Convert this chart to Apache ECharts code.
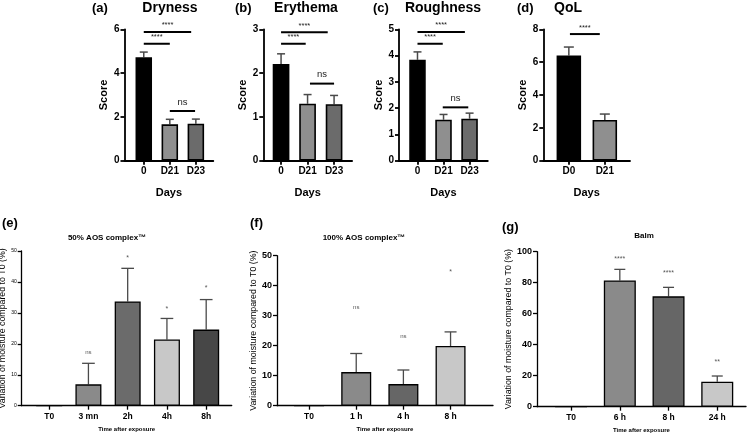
<!DOCTYPE html>
<html>
<head>
<meta charset="utf-8">
<script src="https://cdn.jsdelivr.net/npm/echarts@6/dist/echarts.min.js"></script>
<style>
  html, body { margin: 0; padding: 0; background: #fff; }
  #main { width: 751px; height: 434px; }
</style>
</head>
<body>
<div id="main"></div>
<script>
// clinical scores (top row)
const dayCats = ['0', 'D21', 'D23'];
const qolCats = ['D0', 'D21'];
const dryness = [4.72, 1.66, 1.69];
const drynessErr = [0.24, 0.23, 0.21];
const erythema = [2.21, 1.30, 1.29];
const erythemaErr = [0.23, 0.21, 0.20];
const roughness = [3.84, 1.56, 1.60];
const roughnessErr = [0.30, 0.20, 0.21];
const qol = [6.41, 2.48];
const qolErr = [0.51, 0.36];
// significance brackets: [from, to, level] + label
const drynessSig = [[0, 1.82, 5.88], [0, 1.0, 5.34], [1, 1.97, 2.27]];
const erythemaSig = [[0, 1.76, 2.93], [0, 0.93, 2.67], [1.09, 2.0, 1.76]];
const roughnessSig = [[0, 1.82, 4.90], [0, 0.97, 4.45], [0.97, 1.95, 2.03]];
const qolSig = [[0.03, 0.86, 7.71]];
const bracketLabels = ['****', '****', 'ns'];

// moisture (bottom row)
const aos50Cats = ['T0', '3 mn', '2h', '4h', '8h'];
const aos50 = [0, 6.9, 33.7, 21.4, 24.6];
const aos50Err = [0, 6.8, 10.7, 6.8, 9.7];
const aos50Sig = ['', 'ns', '*', '*', '*'];
const aos50SigAt = [null, 17.1, 47.8, 31.2, 38.1];

const aos100Cats = ['T0', '1 h', '4 h', '8 h'];
const aos100 = [0, 11.2, 7.2, 19.9];
const aos100Err = [0, 6.2, 4.7, 4.7];
const aos100Sig = ['', 'ns', 'ns', '*'];
const aos100SigAt = [null, 32.8, 23.2, 44.7];

const balmCats = ['T0', '6 h', '8 h', '24 h'];
const balm = [0, 81.5, 71.2, 16.1];
const balmErr = [0, 7.1, 5.8, 3.7];
const balmSig = ['', '****', '****', '**'];
const balmSigAt = [null, 95.3, 86.5, 29.0];

const FONT = 'Liberation Sans, Arial, sans-serif';
const topGrey = ['#000000', '#8f8f8f', '#6b6b6b'];
const moistName = 'Variation of moisture compared to T0 (%)';

const panels = [
  { cats: dayCats, vals: dryness, err: drynessErr, sig: drynessSig, colors: topGrey,
    left: 124.5, top: 29.3, width: 88.8, height: 131.4, xmin: -0.74, xmax: 2.67, ymax: 6, step: 2,
    barW: 16.5, cap: 8, top_: true },
  { cats: dayCats, vals: erythema, err: erythemaErr, sig: erythemaSig, colors: topGrey,
    left: 263.3, top: 29.3, width: 88.8, height: 131.4, xmin: -0.67, xmax: 2.68, ymax: 3, step: 1,
    barW: 16.7, cap: 8, top_: true },
  { cats: dayCats, vals: roughness, err: roughnessErr, sig: roughnessSig, colors: topGrey,
    left: 399, top: 29.3, width: 88.8, height: 131.4, xmin: -0.71, xmax: 2.70, ymax: 5, step: 1,
    barW: 16.5, cap: 8, top_: true },
  { cats: qolCats, vals: qol, err: qolErr, sig: qolSig, colors: topGrey,
    left: 543.3, top: 29.3, width: 86.7, height: 131.4, xmin: -0.71, xmax: 1.70, ymax: 8, step: 2,
    barW: 24.5, cap: 10, top_: true },
  { cats: aos50Cats, vals: aos50, err: aos50Err, marks: aos50Sig, marksAt: aos50SigAt,
    colors: ['#8a8a8a', '#8a8a8a', '#6b6b6b', '#c8c8c8', '#474747'],
    left: 21.7, top: 251, width: 210, height: 154.7, xmin: -0.70, xmax: 4.65, ymax: 50, step: 10,
    barW: 26, cap: 12.7, nameGap: 9, tickFont: 5, tickBold: 'normal' },
  { cats: aos100Cats, vals: aos100, err: aos100Err, marks: aos100Sig, marksAt: aos100SigAt,
    colors: ['#8a8a8a', '#8a8a8a', '#666666', '#c8c8c8'],
    left: 277, top: 255.7, width: 216, height: 150, xmin: -0.68, xmax: 3.90, ymax: 50, step: 10,
    barW: 30, cap: 12, nameGap: 14, tickFont: 9, tickBold: 'bold' },
  { cats: balmCats, vals: balm, err: balmErr, marks: balmSig, marksAt: balmSigAt,
    colors: ['#8a8a8a', '#8a8a8a', '#666666', '#c8c8c8'],
    left: 537, top: 251.7, width: 209, height: 155, xmin: -0.70, xmax: 3.59, ymax: 100, step: 20,
    barW: 32, cap: 11, nameGap: 23, tickFont: 9, tickBold: 'bold' }
];

const grid = [], xAxis = [], yAxis = [], series = [];

panels.forEach((p, k) => {
  const idx = p.cats.map((c, i) => i);
  const lw = p.top_ ? 1.8 : 1.3;
  grid.push({ left: p.left, top: p.top, width: p.width, height: p.height,
    containLabel: false, outerBoundsMode: 'none' });
  xAxis.push({
    type: 'value', gridIndex: k, min: p.xmin, max: p.xmax,
    splitLine: { show: false },
    axisLine: { show: true, onZero: false, lineStyle: { color: '#000', width: lw } },
    axisTick: { show: true, customValues: idx, length: 4, lineStyle: { color: '#000', width: lw } },
    axisLabel: {
      customValues: idx, formatter: v => p.cats[Math.round(v)],
      color: '#000', fontFamily: FONT, fontWeight: 'bold',
      fontSize: p.top_ ? 10 : 8.5, margin: p.top_ ? 6 : 6
    },
    name: p.top_ ? 'Days' : 'Time after exposure',
    nameLocation: 'middle', nameGap: p.top_ ? 27 : 21,
    nameTextStyle: { color: '#000', fontFamily: FONT, fontWeight: 'bold', fontSize: p.top_ ? 11 : 6 }
  });
  yAxis.push({
    type: 'value', gridIndex: k, min: 0, max: p.ymax, interval: p.step,
    splitLine: { show: false },
    axisLine: { show: true, onZero: false, lineStyle: { color: '#000', width: lw } },
    axisTick: { show: true, length: 4, lineStyle: { color: '#000', width: lw } },
    axisLabel: {
      color: '#000', fontFamily: FONT, margin: 5,
      fontWeight: p.top_ ? 'bold' : p.tickBold, fontSize: p.top_ ? 10 : p.tickFont
    },
    name: p.top_ ? 'Score' : moistName,
    nameLocation: 'middle', nameRotate: 90, nameGap: p.top_ ? 15 : p.nameGap,
    nameTextStyle: { color: '#000', fontFamily: FONT,
      fontWeight: p.top_ ? 'bold' : 'normal', fontSize: p.top_ ? 11 : 8.8 }
  });

  series.push({
    type: 'bar', xAxisIndex: k, yAxisIndex: k, barWidth: p.barW,
    data: p.vals.map((v, i) => ({ value: [i, v],
      itemStyle: { color: p.colors[i], borderColor: '#000', borderWidth: p.top_ ? 1.6 : 1.3 } }))
  });

  series.push({
    type: 'custom', xAxisIndex: k, yAxisIndex: k, clip: false,
    data: p.vals.map((v, i) => [i, v, p.err[i]]),
    encode: { x: 0, y: 1 },
    renderItem: (params, api) => {
      const e = api.value(2);
      if (!e) return;
      const base = api.coord([api.value(0), api.value(1)]);
      const tip = api.coord([api.value(0), api.value(1) + e]);
      const st = { stroke: '#4a4a4a', lineWidth: p.top_ ? 1.5 : 1.3 };
      return { type: 'group', children: [
        { type: 'line', shape: { x1: base[0], y1: base[1], x2: tip[0], y2: tip[1] }, style: st },
        { type: 'line', shape: { x1: tip[0] - p.cap / 2, y1: tip[1], x2: tip[0] + p.cap / 2, y2: tip[1] }, style: st }
      ] };
    }
  });

  if (p.sig) {
    series.push({
      type: 'custom', xAxisIndex: k, yAxisIndex: k, clip: false,
      data: p.sig, encode: { x: 0, y: 2 },
      renderItem: (params, api) => {
        const a = api.coord([api.value(0), api.value(2)]);
        const b = api.coord([api.value(1), api.value(2)]);
        const lab = bracketLabels[params.dataIndex];
        const ns = lab === 'ns';
        return { type: 'group', children: [
          { type: 'line', shape: { x1: a[0], y1: a[1], x2: b[0], y2: b[1] },
            style: { stroke: '#000', lineWidth: 2 } },
          { type: 'text', x: (a[0] + b[0]) / 2, y: a[1] - (ns ? 9 : 6.5),
            style: { text: lab, fill: '#222', fontFamily: FONT, fontSize: ns ? 9.5 : 7.5,
              align: 'center', verticalAlign: 'middle', textAlign: 'center', textVerticalAlign: 'middle' } }
        ] };
      }
    });
  }

  if (p.marks) {
    const pts = [];
    p.marks.forEach((m, i) => { if (m) pts.push([i, p.marksAt[i]]); });
    series.push({
      type: 'custom', xAxisIndex: k, yAxisIndex: k, clip: false,
      data: pts, encode: { x: 0, y: 1 },
      renderItem: (params, api) => {
        const c = api.coord([api.value(0), api.value(1)]);
        const lab = p.marks[api.value(0)];
        return { type: 'text', x: c[0], y: c[1],
          style: { text: lab, fill: '#555', fontFamily: FONT, fontSize: lab === 'ns' ? 6 : 7,
            align: 'center', verticalAlign: 'middle', textAlign: 'center', textVerticalAlign: 'middle' } };
      }
    });
  }
});

function label(text, x, y, size, align) {
  return { type: 'text', x: x, y: y,
    style: { text: text, fill: '#000', fontFamily: FONT, fontWeight: 'bold', fontSize: size,
      align: align, verticalAlign: 'middle', textAlign: align, textVerticalAlign: 'middle' } };
}

const graphic = [
  label('(a)', 92, 8, 13, 'left'), label('Dryness', 170, 8, 14, 'center'),
  label('(b)', 235, 8, 13, 'left'), label('Erythema', 306, 8, 14, 'center'),
  label('(c)', 373, 8, 13, 'left'), label('Roughness', 443, 8, 14, 'center'),
  label('(d)', 517, 8, 13, 'left'), label('QoL', 568, 8, 14, 'center'),
  label('(e)', 2, 223, 13, 'left'), label('50% AOS complex\u2122', 107, 238, 8, 'center'),
  label('(f)', 250, 223, 13, 'left'), label('100% AOS complex\u2122', 364, 238, 8, 'center'),
  label('(g)', 502, 227, 13, 'left'), label('Balm', 644, 236, 8, 'center')
];

const chart = echarts.init(document.getElementById('main'));
chart.setOption({
  animation: false,
  backgroundColor: '#fff',
  grid: grid,
  xAxis: xAxis,
  yAxis: yAxis,
  series: series,
  graphic: graphic
});
</script>
</body>
</html>
